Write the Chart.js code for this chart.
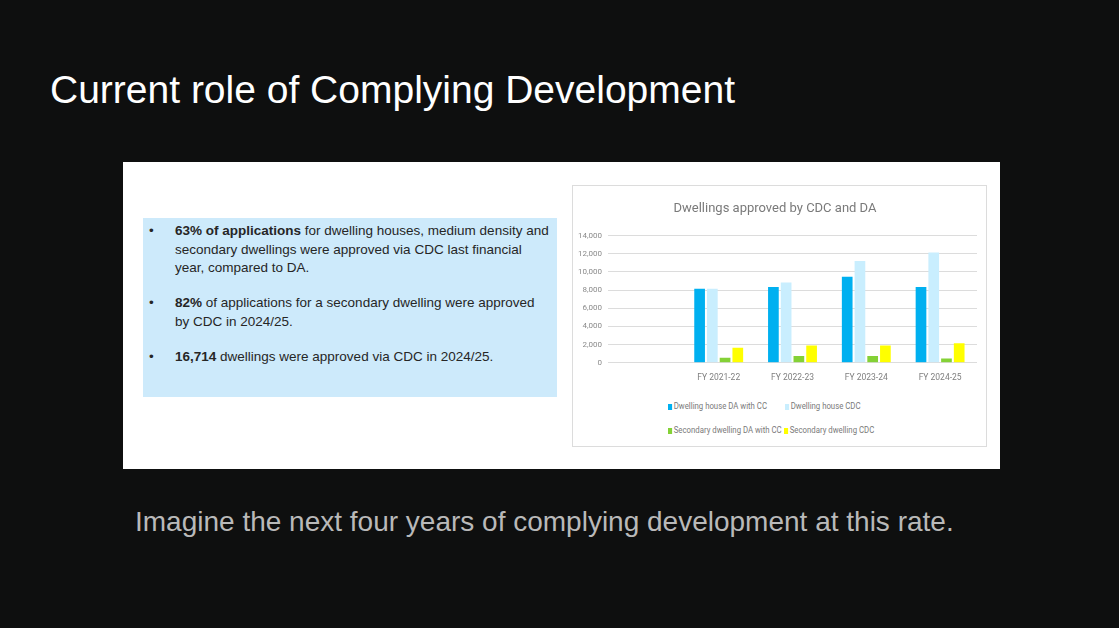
<!DOCTYPE html>
<html>
<head>
<meta charset="utf-8">
<script src="https://cdn.jsdelivr.net/npm/chart.js@4.4.1/dist/chart.umd.min.js"></script>
<style>
    html, body { margin: 0; padding: 0; }
    body {
        width: 1119px; height: 628px; background: #0e0f0f; position: relative; overflow: hidden;
        font-family: 'Liberation Sans', Arial, sans-serif;
    }
    #slideTitle {
        position: absolute; left: 50px; top: 68px; margin: 0;
        font-size: 39px; font-weight: normal; color: #ffffff; line-height: 44px; white-space: nowrap;
    }
    #panel {
        position: absolute; left: 123px; top: 162px; width: 877px; height: 307px; background: #ffffff;
    }
    #facts {
        position: absolute; left: 20px; top: 56px; width: 414px; height: 179px; background: #cdeafb;
        color: #262626; font-size: 13.5px; line-height: 18.5px;
    }
    #facts ul { list-style: none; margin: 0; padding: 0; position: absolute; left: 0; top: 4px; }
    #facts li { position: relative; padding-left: 32px; margin-bottom: 16.5px; white-space: nowrap; }
    #facts li::before { content: '\2022'; position: absolute; left: 6px; top: 0; }
    #chartBox {
        position: absolute; left: 449px; top: 23px; width: 415px; height: 262px;
        border: 1px solid #dcdcdc; box-sizing: border-box;
    }
    #chartWrap { position: absolute; left: 0; top: 0; width: 413px; height: 205px; }
    #legend {
        position: absolute; left: 0; top: 0; width: 413px;
        font-family: Roboto, 'Liberation Sans', sans-serif;
        font-size: 9.5px; color: #7a7a7a;
    }
    .lg { position: absolute; white-space: nowrap; line-height: 12px; transform: scaleX(0.82); transform-origin: 0 50%; }
    .lg i { display: inline-block; width: 5px; height: 6px; margin-right: 2px; vertical-align: -1px; }
    #caption {
        position: absolute; left: 135px; top: 507px; margin: 0;
        font-size: 28px; color: #b9b9b9; white-space: nowrap; line-height: 30px;
    }
</style>
</head>
<body>
<h1 id="slideTitle">Current role of Complying Development</h1>
<div id="panel">
    <div id="facts">
        <ul>
            <li><b>63% of applications</b> for dwelling houses, medium density and<br>secondary dwellings were approved via CDC last financial<br>year, compared to DA.</li>
            <li><b>82%</b> of applications for a secondary dwelling were approved<br>by CDC in 2024/25.</li>
            <li><b>16,714</b> dwellings were approved via CDC in 2024/25.</li>
        </ul>
    </div>
    <div id="chartBox">
        <div id="chartWrap"><canvas id="dwellChart"></canvas></div>
        <div id="legend"></div>
    </div>
</div>
<p id="caption">Imagine the next four years of complying development at this rate.</p>

<script>
// first category is left empty in the original chart
const categories = ['', 'FY 2021-22', 'FY 2022-23', 'FY 2023-24', 'FY 2024-25'];
const houseDA = [null, 8150, 8350, 9480, 8350];
const houseCDC = [null, 8150, 8850, 11200, 12150];
const secondaryDA = [null, 560, 750, 750, 480];
const secondaryCDC = [null, 1650, 1900, 1900, 2160];
const yTicks = [0, 2000, 4000, 6000, 8000, 10000, 12000, 14000];

const seriesNames = ['Dwelling house DA with CC', 'Dwelling house  CDC', 'Secondary dwelling DA with CC', 'Secondary dwelling CDC'];
const seriesColors = ['#00b0f0', '#c9eefe', '#84d136', '#ffff00'];

const chartFont = "Roboto, 'Liberation Sans', sans-serif";

const ctx = document.getElementById('dwellChart').getContext('2d');
const chart = new Chart(ctx, {
    type: 'bar',
    data: {
        labels: categories,
        datasets: [houseDA, houseCDC, secondaryDA, secondaryCDC].map((values, i) => ({
            label: seriesNames[i],
            data: values,
            backgroundColor: seriesColors[i],
            borderWidth: 0,
            barPercentage: 0.84,
            categoryPercentage: 0.69,
        })),
    },
    options: {
        responsive: true,
        maintainAspectRatio: false,
        animation: false,
        layout: { padding: { left: 0, right: 9, top: 0, bottom: 6 } },
        plugins: {
            legend: { display: false },
            tooltip: { enabled: false },
            title: {
                display: true,
                text: 'Dwellings approved by CDC and DA',
                color: '#7a7a7a',
                font: { family: chartFont, size: 13, weight: 'normal' },
                padding: { top: 15, bottom: 19 },
            },
        },
        scales: {
            x: {
                grid: { display: false },
                border: { display: false },
                ticks: {
                    color: '#7f7f7f',
                    padding: 2,
                    maxRotation: 0,
                    font: { family: chartFont, size: 8.5 },
                },
            },
            y: {
                min: 0,
                max: 14000,
                afterFit: function (scale) { scale.width = 35; },
                afterBuildTicks: function (scale) { scale.ticks = yTicks.map((v) => ({ value: v })); },
                grid: { color: '#dcdcdc', lineWidth: 1, drawTicks: false },
                border: { display: false },
                ticks: {
                    color: '#8a8a8a',
                    padding: 6,
                    font: { family: chartFont, size: 8 },
                    callback: (v) => v.toLocaleString('en-US'),
                },
            },
        },
    },
});

// legend laid out in two rows like the original
const legendPos = [[95, 214], [212, 214], [95, 238], [211, 238]];
const legendBox = document.getElementById('legend');
seriesNames.forEach((name, i) => {
    const item = document.createElement('div');
    item.className = 'lg';
    item.style.left = legendPos[i][0] + 'px';
    item.style.top = legendPos[i][1] + 'px';
    item.innerHTML = '<i style="background:' + seriesColors[i] + '"></i>' + name;
    legendBox.appendChild(item);
});
</script>
</body>
</html>
